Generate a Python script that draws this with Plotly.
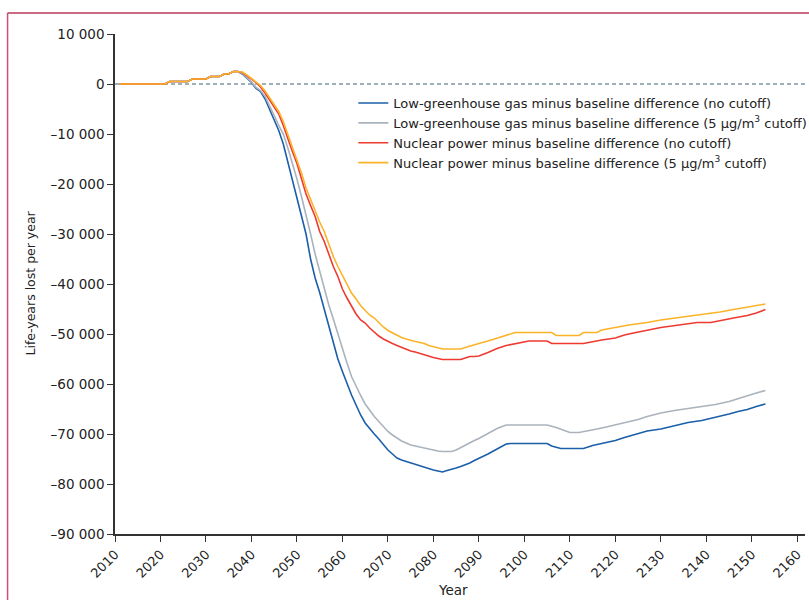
import plotly.graph_objects as go

# ---- data ----
early_years = [2011, 2021, 2022, 2026, 2027, 2030, 2031, 2033, 2034, 2035, 2036, 2037]
early_vals = [0, 0, 500, 500, 1000, 1000, 1500, 1500, 2000, 2000, 2500, 2500]

steep_years = list(range(2038, 2091))

blue_steep = [2000, 1200, 300, -900, -1500, -3000, -5000, -7200, -9300, -12000,
              -15500, -19000, -23000, -26500, -30000, -35000, -38800, -41700, -45000, -48300,
              -52000, -55000, -57500, -60000, -62200, -64200, -66200, -67800, -69000, -70000,
              -71000, -72200, -73200, -74000, -74800, -75200, -75500, -75800, -76000, -76300,
              -76700, -77000, -77200, -77400, -77600, -77300, -77100, -76800, -76500, -76200,
              -75800, -75300, -74900]
blue_late_years = [2092, 2094, 2096, 2097, 2105, 2106, 2108, 2113, 2115, 2117, 2120, 2122,
                   2125, 2127, 2130, 2133, 2136, 2139, 2142, 2145, 2147, 2149, 2151, 2153]
blue_late = [-74000, -73000, -72000, -71900, -71900, -72400, -72900, -72900, -72300, -71900,
             -71300, -70700, -70000, -69400, -69000, -68300, -67700, -67300, -66700, -66000,
             -65500, -65100, -64500, -64000]

gray_steep = [2100, 1300, 400, -700, -1300, -2500, -4300, -6300, -8300, -10000,
              -12800, -15800, -19000, -22500, -26000, -30000, -34000, -37500, -41000, -44200,
              -47000, -50000, -52800, -55800, -58500, -60500, -62300, -64000, -65300, -66500,
              -67500, -68500, -69500, -70200, -70800, -71400, -71800, -72200, -72400, -72600,
              -72900, -73000, -73200, -73400, -73500, -73500, -73500, -73200, -72700, -72200,
              -71700, -71300, -70900]
gray_late_years = [2092, 2094, 2096, 2105, 2107, 2109, 2110, 2112, 2114, 2116, 2118, 2120,
                   2122, 2125, 2127, 2130, 2133, 2136, 2139, 2142, 2145, 2147, 2149, 2151, 2153]
gray_late = [-69900, -68900, -68200, -68200, -68700, -69400, -69700, -69700, -69400, -69000,
             -68600, -68200, -67800, -67100, -66500, -65800, -65300, -64900, -64500, -64100,
             -63500, -62900, -62400, -61800, -61300]

red_steep = [2300, 1700, 1000, 300, -600, -1800, -3200, -4700, -6000, -8300,
             -11000, -13500, -15900, -19000, -22000, -24300, -26500, -29500, -31500, -34000,
             -36500, -38500, -41000, -42800, -44500, -46000, -47200, -47800, -48800, -49700,
             -50400, -51000, -51500, -51900, -52300, -52700, -53100, -53400, -53600, -53900,
             -54200, -54500, -54700, -54900, -55100, -55100, -55100, -55100, -55100, -54800,
             -54500, -54500, -54400]
red_late_years = [2092, 2094, 2096, 2098, 2100, 2101, 2105, 2106, 2113, 2115, 2117, 2120,
                  2122, 2124, 2127, 2130, 2134, 2138, 2141, 2143, 2146, 2149, 2151, 2153]
red_late = [-53700, -52900, -52300, -51900, -51600, -51400, -51400, -51900, -51900, -51500,
            -51200, -50800, -50200, -49800, -49300, -48700, -48200, -47700, -47700, -47300,
            -46800, -46300, -45800, -45100]

orange_steep = [2400, 1800, 1100, 500, -300, -1400, -2700, -4100, -5500, -7500,
                -10000, -12500, -15000, -17800, -20800, -23200, -25300, -27600, -29500, -32000,
                -34500, -36500, -38200, -40000, -41800, -43000, -44300, -45300, -46200, -46800,
                -47800, -48600, -49300, -49800, -50300, -50700, -51000, -51300, -51500, -51700,
                -51900, -52300, -52500, -52700, -53000, -53000, -53000, -53000, -53000, -52700,
                -52400, -52100, -51900]
orange_late_years = [2092, 2094, 2096, 2098, 2100, 2106, 2107, 2112, 2113, 2116, 2117, 2120,
                     2123, 2127, 2130, 2134, 2139, 2143, 2146, 2149, 2151, 2153]
orange_late = [-51400, -50800, -50200, -49700, -49700, -49700, -50300, -50300, -49700, -49700,
               -49200, -48700, -48200, -47700, -47200, -46700, -46100, -45600, -45100, -44600,
               -44300, -44000]

series_names = [
    "Low-greenhouse gas minus baseline difference (no cutoff)",
    "Low-greenhouse gas minus baseline difference (5 µg/m<sup>3</sup> cutoff)",
    "Nuclear power minus baseline difference (no cutoff)",
    "Nuclear power minus baseline difference (5 µg/m<sup>3</sup> cutoff)",
]
series_colors = ["#1b5fa8", "#aab3bb", "#ee3a31", "#fbb32a"]

y_tickvals = list(range(-90000, 10001, 10000))
y_ticktext = [("\u2013" if v < 0 else "") + (f"{abs(v):,}".replace(",", " ")) for v in y_tickvals]
x_tickvals = list(range(2010, 2161, 10))
x_ticktext = [str(v) for v in x_tickvals]

series = [
    (blue_steep, blue_late_years, blue_late),
    (gray_steep, gray_late_years, gray_late),
    (red_steep, red_late_years, red_late),
    (orange_steep, orange_late_years, orange_late),
]

fig = go.Figure()
for (steep, ly, lv), name, col in zip(series, series_names, series_colors):
    xs = early_years + steep_years + ly
    ys = early_vals + steep + lv
    fig.add_trace(go.Scatter(x=xs, y=ys, mode="lines", name=name,
                             line=dict(color=col, width=1.6)))

FONT = "DejaVu Sans"
axis_col = "#333333"
L, R, T, B = 114.5, 4, 34, 66
PW = 809 - L - R
PH = 600 - T - B


def px_x(p):
    return (p - L) / PW


def px_y(p):
    return (600 - B - p) / PH


fig.update_layout(
    width=809, height=600,
    margin=dict(l=L, r=R, t=T, b=B, autoexpand=False),
    paper_bgcolor="white", plot_bgcolor="white",
    font=dict(family=FONT, size=13, color="#222222"),
    showlegend=True,
    legend=dict(x=px_x(353), y=px_y(88), xanchor="left", yanchor="top",
                bgcolor="rgba(0,0,0,0)", font=dict(size=13, family=FONT, color="#222222"),
                tracegroupgap=0, itemwidth=30),
    xaxis=dict(range=[2010, 2161.7], tickvals=x_tickvals, ticktext=x_ticktext,
               tickangle=-45, ticks="outside", ticklen=6, tickcolor=axis_col, tickwidth=1.3,
               showline=True, linecolor=axis_col, linewidth=1.5, showgrid=False,
               zeroline=False, tickfont=dict(size=13, family=FONT)),
    yaxis=dict(range=[-90000, 10000], tickvals=y_tickvals, ticktext=y_ticktext,
               ticks="outside", ticklen=6, tickcolor=axis_col, tickwidth=1.3,
               showline=True, linecolor=axis_col, linewidth=1.5, showgrid=False,
               zeroline=False, tickfont=dict(size=13.5, family=FONT)),
    annotations=[
        dict(text="Life-years lost per year", xref="paper", yref="paper",
             x=px_x(29), y=px_y(283), textangle=-90,
             showarrow=False, font=dict(size=12.5, family=FONT), xanchor="center", yanchor="middle"),
        dict(text="Year", xref="paper", yref="paper",
             x=px_x(453), y=px_y(590),
             showarrow=False, font=dict(size=13.5, family=FONT), xanchor="center", yanchor="middle"),
    ],
    shapes=[
        dict(type="line", xref="paper", yref="y", x0=0, x1=1, y0=0, y1=0,
             line=dict(color="#3f6479", width=1.2, dash="4px,3px"), layer="below"),
        dict(type="line", xref="paper", yref="paper",
             x0=px_x(7), x1=px_x(7), y0=px_y(605), y1=px_y(13),
             line=dict(color="#cf4f76", width=1.5)),
        dict(type="line", xref="paper", yref="paper",
             x0=px_x(7), x1=px_x(815), y0=px_y(13), y1=px_y(13),
             line=dict(color="#b8385a", width=1.5)),
    ],
)

fig.write_html("out.html")
